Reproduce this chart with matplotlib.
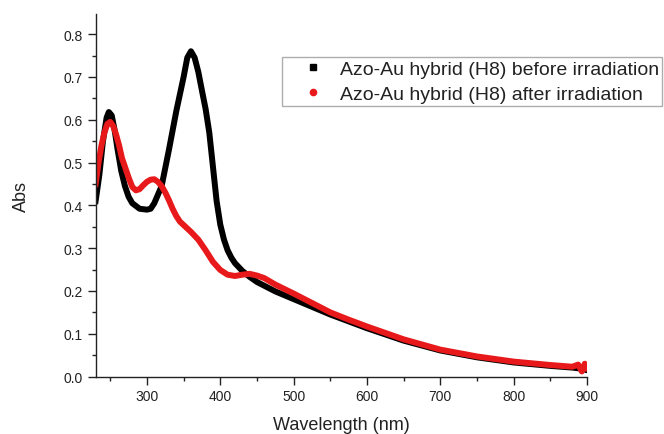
import matplotlib
matplotlib.use("Agg")
import matplotlib.pyplot as plt
from matplotlib.lines import Line2D
from matplotlib.ticker import MultipleLocator

plt.rcParams['font.family'] = ['Liberation Sans', 'DejaVu Sans']

# before irradiation (black)
wl_before = [230, 235, 240, 245, 248, 252, 256, 260, 265, 270, 275, 280, 290, 300,
             305, 310, 320, 330, 340, 350, 355, 360, 365, 370, 375, 380, 385, 390,
             395, 400, 405, 410, 415, 420, 430, 440, 450, 475, 500, 525, 550, 575,
             600, 650, 700, 750, 800, 850, 880, 890, 900]
abs_before = [0.41, 0.47, 0.55, 0.605, 0.618, 0.61, 0.575, 0.53, 0.48, 0.445, 0.42,
              0.405, 0.392, 0.39, 0.392, 0.405, 0.445, 0.53, 0.62, 0.70, 0.745, 0.76,
              0.745, 0.712, 0.668, 0.625, 0.57, 0.49, 0.41, 0.355, 0.32, 0.295, 0.278,
              0.265, 0.247, 0.233, 0.221, 0.199, 0.181, 0.163, 0.145, 0.129, 0.113,
              0.084, 0.061, 0.045, 0.033, 0.025, 0.021, 0.019, 0.015]

# after irradiation (red)
wl_after = [230, 234, 238, 242, 246, 250, 254, 258, 262, 266, 270, 275, 280, 285, 290,
            295, 300, 305, 310, 315, 320, 325, 330, 335, 340, 345, 350, 360, 370, 380,
            390, 400, 410, 420, 430, 440, 450, 460, 475, 500, 525, 550, 575, 600, 650,
            700, 750, 800, 850, 880, 888, 893, 897, 900]
abs_after = [0.45, 0.50, 0.54, 0.57, 0.59, 0.595, 0.585, 0.565, 0.54, 0.51, 0.49, 0.465,
             0.443, 0.435, 0.438, 0.447, 0.455, 0.46, 0.461, 0.455, 0.445, 0.43, 0.412,
             0.392, 0.375, 0.362, 0.354, 0.338, 0.32, 0.295, 0.268, 0.249, 0.238, 0.235,
             0.238, 0.24, 0.236, 0.23, 0.215, 0.194, 0.172, 0.15, 0.133, 0.117, 0.087,
             0.063, 0.047, 0.035, 0.027, 0.023, 0.028, 0.012, 0.03, 0.02]

labels = ['Azo-Au hybrid (H8) before irradiation',
          'Azo-Au hybrid (H8) after irradiation']
red = '#e8191a'
txt = '#222222'

fig = plt.figure(figsize=(6.64, 4.35), dpi=100)
ax = fig.add_axes([0.144, 0.132, 0.740, 0.8335])

ax.plot(wl_before, abs_before, '-', color='black', lw=4.3, solid_joinstyle='round')
ax.plot(wl_after, abs_after, '-', color=red, lw=4.3, solid_joinstyle='round')

ax.set_xlim(230, 900)
ax.set_ylim(0, 0.847)
ax.xaxis.set_major_locator(MultipleLocator(100))
ax.xaxis.set_minor_locator(MultipleLocator(50))
ax.yaxis.set_major_locator(MultipleLocator(0.1))
ax.yaxis.set_minor_locator(MultipleLocator(0.05))
ax.tick_params(which='major', direction='out', length=6, width=1, labelsize=10, pad=3,
               colors='#222222')
ax.tick_params(which='minor', direction='out', length=3, width=1, colors='#222222')
for side in ['top', 'right']:
    ax.spines[side].set_visible(False)
for side in ['left', 'bottom']:
    ax.spines[side].set_linewidth(1)
    ax.spines[side].set_color('#222222')

ax.set_xlabel('Wavelength (nm)', fontsize=13, labelpad=9, color=txt)
ax.set_ylabel('Abs', fontsize=13, labelpad=24, color=txt)

handles = [Line2D([], [], ls='none', marker='s', color='black', markersize=4),
           Line2D([], [], ls='none', marker='o', color=red, markersize=4.5)]
leg = fig.legend(handles, labels, loc='upper left', bbox_to_anchor=(282 / 664, 1 - 58 / 435),
                 fontsize=14, frameon=True, fancybox=False, borderpad=0.17,
                 handlelength=2.8, handletextpad=0.0, labelspacing=0.38, borderaxespad=0)
leg.get_frame().set_edgecolor('#999999')
leg.get_frame().set_linewidth(1)
for t in leg.get_texts():
    t.set_color(txt)

fig.savefig('out.png', dpi=100)
plt.close()
